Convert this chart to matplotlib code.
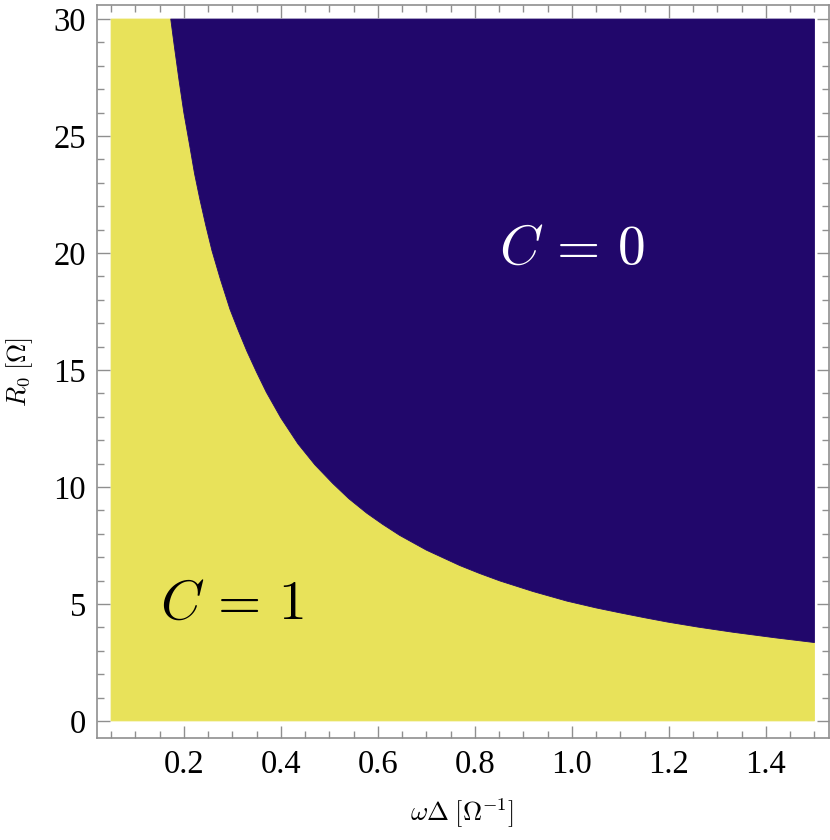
import matplotlib.pyplot as plt
from matplotlib.ticker import MultipleLocator, FormatStrFormatter

# boundary between the two regions (x = omega*Delta, y = R0)
borde_x = [0.173, 0.180, 0.190, 0.200, 0.212, 0.222, 0.233, 0.245, 0.258, 0.275,
           0.295, 0.312, 0.330, 0.350, 0.370, 0.400, 0.435, 0.470, 0.507, 0.540,
           0.577, 0.610, 0.645, 0.700, 0.769, 0.810, 0.852, 0.920, 0.990, 1.050,
           1.099, 1.150, 1.196, 1.260, 1.332, 1.420, 1.500]
borde_r = [30.0, 28.9, 27.4, 26.0, 24.6, 23.4, 22.3, 21.2, 20.1, 18.9,
           17.6, 16.7, 15.8, 14.9, 14.05, 12.95, 11.85, 10.95, 10.15, 9.50,
           8.88, 8.40, 7.93, 7.30, 6.64, 6.30, 5.98, 5.53, 5.12, 4.83,
           4.62, 4.41, 4.23, 4.01, 3.79, 3.55, 3.35]

x_min, x_max = 0.05, 1.5
r_min, r_max = 0.0, 30.0

amarillo = "#e8e25a"
azul = "#21076b"
gris = "#8f8f8f"

plt.rcParams["mathtext.fontset"] = "cm"

fig = plt.figure(figsize=(8.3, 8.4), dpi=100)
ax = fig.add_axes([97/830, 1-738/840, (829-97)/830, (738-5)/840])

# region C = 1 (below the curve)
px = [x_min, x_min] + borde_x + [x_max]
py = [r_min, r_max] + borde_r + [r_min]
ax.fill(px, py, color=amarillo, lw=0.6, ec=amarillo)

# region C = 0 (above the curve)
qx = borde_x + [x_max]
qy = borde_r + [r_max]
ax.fill(qx, qy, color=azul, lw=0.6, ec=azul)

ax.text(0.299, 5.0, r"$C\,=\,1$", fontsize=40, ha="center", va="center", color="black")
ax.text(1.0, 20.2, r"$C\,=\,0$", fontsize=40, ha="center", va="center", color="white")

ax.set_xlim(0.021, 1.530)
ax.set_ylim(-0.73, 30.6)

ax.xaxis.set_major_locator(MultipleLocator(0.2))
ax.xaxis.set_minor_locator(MultipleLocator(0.05))
ax.xaxis.set_major_formatter(FormatStrFormatter("%.1f"))
ax.yaxis.set_major_locator(MultipleLocator(5))
ax.yaxis.set_minor_locator(MultipleLocator(1))

ax.tick_params(which="both", direction="in", top=True, right=True, color=gris, width=1)
ax.tick_params(which="major", length=9, pad=8, labelsize=23.5)
ax.tick_params(which="minor", length=5)
for lab in ax.get_xticklabels() + ax.get_yticklabels():
    lab.set_fontfamily("Liberation Serif")
for s in ax.spines.values():
    s.set_color(gris)
    s.set_linewidth(1.2)

fig.text(462/830, 1-813/840, r"$\omega\Delta\;[\Omega^{-1}]$", fontsize=19, ha="center", va="center")
fig.text(20/830, 1-372/840, r"$R_0\;[\Omega]$", fontsize=19, ha="center", va="center", rotation=90)

fig.savefig("out.png", dpi=100)
